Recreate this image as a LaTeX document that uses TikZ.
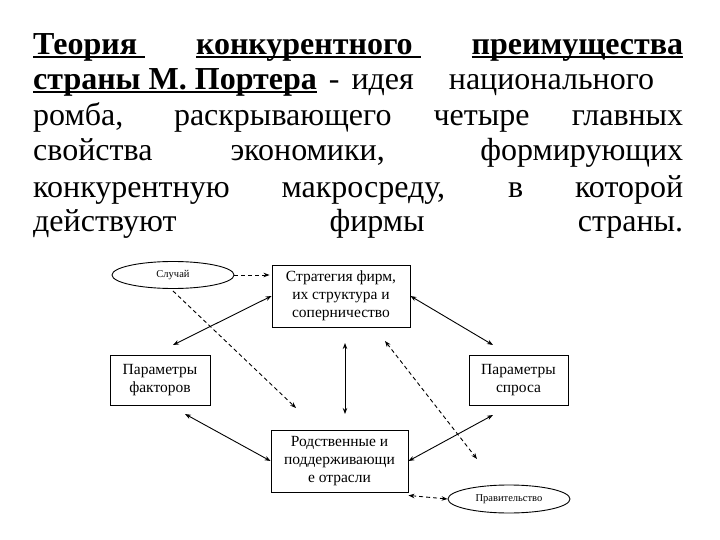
\documentclass[tikz,border=0pt]{standalone}
\usepackage{fontspec}
\setmainfont{Liberation Serif}
\usetikzlibrary{shapes.geometric,arrows.meta}
\newcommand{\ulin}[1]{\setbox0=\hbox{#1}\rlap{\rule[-3.5pt]{\wd0}{2.4pt}}\box0\relax}
\begin{document}
\begin{tikzpicture}[x=1pt, y=-1pt,
    line/.style={anchor=base west, inner sep=0pt, font=\fontsize{32}{35}\selectfont},
    box/.style={draw, line width=0.9pt, minimum width=#1, align=center, inner sep=0pt, font=\fontsize{15.5}{18}\selectfont},
    oval/.style={draw, ellipse, line width=0.9pt, minimum width=122pt, minimum height=27pt, inner sep=0pt, font=\fontsize{10.5}{12}\selectfont},
    arrow/.style={{Stealth[length=6pt,width=4.5pt]}-{Stealth[length=6pt,width=4.5pt]}, line width=0.9pt},
    onearrow/.style={-{Stealth[length=6pt,width=4.5pt]}, line width=0.9pt, dash pattern=on 4pt off 3pt},
    dasharrow/.style={arrow, dash pattern=on 4pt off 3pt}
  ]
    \useasboundingbox (0,0) rectangle (720,540);

    \node[line] (l1) at (33,55) {\makebox[650pt][s]{\bfseries\ulin{Теория\ } \ulin{конкурентного\ } \ulin{преимущества}}};
    \node[line] (l2) at (33,90) {\makebox[622pt][l]{\ulin{\bfseries страны М. Портера}\hspace{12pt}-\hspace{12pt}идея\hspace{35pt}национального}};
    \node[line] (l3) at (33,126) {\makebox[650pt][s]{ромба, раскрывающего четыре главных}};
    \node[line] (l4) at (33,161) {\makebox[650pt][s]{свойства экономики, формирующих}};
    \node[line] (l5) at (33,197) {\makebox[650pt][s]{конкурентную макросреду, в которой}};
    \node[line] (l6) at (33,232) {\makebox[650pt][s]{действуют фирмы страны.}};

    \node[box=138pt, minimum height=62pt] (strat) at (341,296) {Стратегия фирм,\\их структура и\\соперничество};
    \node[box=100pt, minimum height=50pt] (fact) at (160,380) {Параметры\\факторов};
    \node[box=99pt, minimum height=50pt] (spros) at (518.5,380) {Параметры\\спроса};
    \node[box=137pt, minimum height=62pt] (rodst) at (339.5,461) {Родственные и\\поддерживающи\\е отрасли};
    \node[oval] (sluch) at (173,275) {Случай};
    \node[oval, minimum height=28pt] (prav) at (509,499) {Правительство};

    \coordinate (factTop) at (173,345);
    \coordinate (factBot) at (185,414);
    \coordinate (sprosTop) at (493,345);
    \coordinate (sprosBot) at (493,415);
    \coordinate (midTop) at (345,343);
    \coordinate (midBot) at (345,414);
    \coordinate (chance) at (296,408);
    \coordinate (govTop) at (385,341);
    \coordinate (govBot) at (477,459);

    \draw[arrow] (strat.west) -- (factTop);
    \draw[arrow] (strat.east) -- (sprosTop);
    \draw[arrow] (midTop) -- (midBot);
    \draw[arrow] (factBot) -- (rodst.west);
    \draw[arrow] (sprosBot) -- (rodst.east);
    \draw[onearrow] (sluch.east) -- ([xshift=-2pt]strat.west |- sluch.east);
    \draw[onearrow] (sluch.south) ++(0,2) -- (chance);
    \draw[dasharrow] (govTop) -- (govBot);
    \draw[dasharrow] ([yshift=-3pt]rodst.south east) -- (prav.west);
  \end{tikzpicture}
\end{document}
